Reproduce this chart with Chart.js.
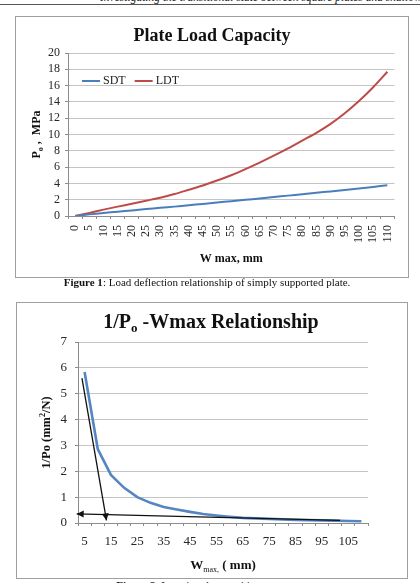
<!DOCTYPE html>
<html>
<head>
<meta charset="utf-8">
<script src="https://cdn.jsdelivr.net/npm/chart.js@4.4.1/dist/chart.umd.min.js"></script>
<style>
html, body { margin:0; padding:0; background:#fff; width:420px; height:583px; overflow:hidden; position:relative; font-family:'Liberation Serif', serif; }
#header { position:absolute; left:100px; top:-8px; white-space:nowrap; font-style:italic; font-size:11.5px; line-height:11.5px; color:#222; }
#rule { position:absolute; left:0; top:4px; width:420px; border-top:1px solid #555; }
.box { position:absolute; border:1px solid #a0a0a0; box-sizing:border-box; }
#box1 { left:15px; top:16px; width:394px; height:262px; }
#box2 { left:16px; top:302px; width:392px; height:277px; }
.box canvas { position:absolute; left:0; top:0; }
.cap { position:absolute; font-size:11px; line-height:11px; color:#111; white-space:nowrap; text-align:center; }
</style>
</head>
<body>
<div id="header">Investigating the transitional state between square plates and shallow shells</div>
<div id="rule"></div>
<div class="box" id="box1"><canvas id="c1" width="392" height="260"></canvas></div>
<div class="cap" style="left:0;width:414px;top:277px;"><b>Figure 1</b>: Load deflection relationship of simply supported plate.</div>
<div class="box" id="box2"><canvas id="c2" width="390" height="275"></canvas></div>
<div class="cap" style="left:0;width:400px;top:580px;"><b>Figure 2</b>: Locating the transition state</div>
<script>
// --- figure 1 data ---
const W_MAX = [0, 5, 10, 15, 20, 25, 30, 35, 40, 45, 50, 55, 60, 65, 70, 75, 80, 85, 90, 95, 100, 105, 110];
const SDT = [0, 0.2, 0.37, 0.53, 0.68, 0.85, 1.0, 1.15, 1.32, 1.48, 1.65, 1.82, 1.98, 2.15, 2.32, 2.5, 2.68, 2.85, 3.02, 3.2, 3.38, 3.57, 3.78];
const LDT = [0, 0.38, 0.78, 1.15, 1.5, 1.88, 2.25, 2.7, 3.22, 3.75, 4.35, 5.0, 5.75, 6.55, 7.4, 8.3, 9.25, 10.2, 11.3, 12.6, 14.1, 15.8, 17.7];

// --- figure 2 data ---
const W2 = [5, 10, 15, 20, 25, 30, 35, 40, 45, 50, 55, 60, 65, 70, 75, 80, 85, 90, 95, 100, 105, 110];
const INV_P = [5.84, 2.86, 1.86, 1.36, 1.0, 0.78, 0.62, 0.52, 0.43, 0.35, 0.29, 0.24, 0.2, 0.18, 0.16, 0.14, 0.12, 0.11, 0.1, 0.09, 0.08, 0.07];
const W2_LABELS = [5, 15, 25, 35, 45, 55, 65, 75, 85, 95, 105];
// hand drawn arrows on the figure (data units)
const ARROW1_X = [4.0, 13.3];
const ARROW1_Y = [5.6, 0.1];
const ARROW2_X = [101.9, 2.0];
const ARROW2_Y = [0.1, 0.35];

const SERIF = "'Liberation Serif', 'Times New Roman', serif";
const GRID = '#c4c4c4';
const AXIS = '#8c8c8c';

// draw text made of pieces (sub/superscripts), centred at x
function drawRich(ctx, parts, x, y, rot) {
    ctx.save();
    ctx.translate(x, y);
    if (rot) ctx.rotate(rot);
    ctx.fillStyle = '#111';
    ctx.textAlign = 'left';
    ctx.textBaseline = 'alphabetic';
    let w = 0;
    parts.forEach(p => { ctx.font = `${p.b ? 'bold ' : ''}${p.s}px ${SERIF}`; w += ctx.measureText(p.t).width; });
    let cx = -w / 2;
    parts.forEach(p => {
        ctx.font = `${p.b ? 'bold ' : ''}${p.s}px ${SERIF}`;
        ctx.fillText(p.t, cx, p.dy || 0);
        cx += ctx.measureText(p.t).width;
    });
    ctx.restore();
}

const arrowHeads = {
    id: 'arrowHeads',
    afterDatasetsDraw(chart) {
        const ctx = chart.ctx;
        chart.data.datasets.forEach((ds, i) => {
            if (!ds.arrow) return;
            const pts = chart.getDatasetMeta(i).data;
            const a = pts[pts.length - 2], b = pts[pts.length - 1];
            const ang = Math.atan2(b.y - a.y, b.x - a.x);
            ctx.save();
            ctx.translate(b.x, b.y);
            ctx.rotate(ang);
            ctx.fillStyle = ds.borderColor;
            ctx.beginPath();
            ctx.moveTo(0, 0);
            ctx.lineTo(-7, -3.5);
            ctx.lineTo(-7, 3.5);
            ctx.closePath();
            ctx.fill();
            ctx.restore();
        });
    }
};

const texts1 = {
    id: 'texts1',
    afterDraw(chart) {
        const ctx = chart.ctx, a = chart.chartArea;
        drawRich(ctx, [{t: 'Plate Load Capacity', s: 18, b: true}], chart.width / 2, 24);
        drawRich(ctx, [{t: 'P', s: 12, b: true}, {t: 'o', s: 8, b: true, dy: 3}, {t: ' ,  MPa', s: 12, b: true}], 24, (a.top + a.bottom) / 2, -Math.PI / 2);
        drawRich(ctx, [{t: 'W max, mm', s: 12, b: true}], (a.left + a.right) / 2, 245);
        // legend inside the plot
        let x = a.left + 14;
        const y = a.top + 28;
        ctx.save();
        ctx.font = `12px ${SERIF}`;
        ctx.textBaseline = 'middle';
        chart.data.datasets.forEach(ds => {
            ctx.strokeStyle = ds.borderColor;
            ctx.lineWidth = 2;
            ctx.beginPath(); ctx.moveTo(x, y); ctx.lineTo(x + 18, y); ctx.stroke();
            ctx.fillStyle = '#222';
            ctx.fillText(ds.label, x + 21, y);
            x += 21 + ctx.measureText(ds.label).width + 9;
        });
        ctx.restore();
    }
};

const texts2 = {
    id: 'texts2',
    afterDraw(chart) {
        const ctx = chart.ctx, a = chart.chartArea;
        drawRich(ctx, [{t: '1/P', s: 20, b: true}, {t: 'o', s: 13, b: true, dy: 4}, {t: ' -Wmax Relationship', s: 20, b: true}], chart.width / 2 - 1, 25);
        drawRich(ctx, [{t: '1/Po (mm', s: 12.5, b: true}, {t: '2', s: 8, b: true, dy: -5}, {t: '/N)', s: 12.5, b: true}], 33, (a.top + a.bottom) / 2, -Math.PI / 2);
        drawRich(ctx, [{t: 'W', s: 13, b: true}, {t: 'max,', s: 8, dy: 3}, {t: ' ( mm)', s: 13, b: true}], (a.left + a.right) / 2, 266);
    }
};

new Chart(document.getElementById('c1'), {
    type: 'line',
    data: {
        labels: W_MAX,
        datasets: [
            { label: 'SDT', data: SDT, borderColor: '#4a7ebb', borderWidth: 2, pointRadius: 0, tension: 0.3 },
            { label: 'LDT', data: LDT, borderColor: '#be4b48', borderWidth: 2, pointRadius: 0, tension: 0.3 }
        ]
    },
    options: {
        responsive: false, animation: false, events: [],
        layout: { padding: { top: 36, right: 11, left: 0, bottom: 0 } },
        plugins: { legend: { display: false }, title: { display: false }, tooltip: { enabled: false } },
        scales: {
            x: {
                type: 'category', offset: true,
                afterFit: s => { s.height = 61; },
                grid: { offset: true, drawOnChartArea: false, color: AXIS, tickLength: 3 },
                border: { color: AXIS },
                ticks: { autoSkip: false, minRotation: 90, maxRotation: 90, padding: 6, color: '#262626', font: { family: SERIF, size: 12 } }
            },
            y: {
                min: 0, max: 20,
                afterFit: s => { s.width = 52; },
                grid: { color: GRID, tickColor: AXIS, tickLength: 3 },
                border: { color: AXIS },
                ticks: { autoSkip: false, stepSize: 2, padding: 5, color: '#262626', font: { family: SERIF, size: 12 } }
            }
        }
    },
    plugins: [texts1]
});

new Chart(document.getElementById('c2'), {
    type: 'line',
    data: {
        datasets: [
            { data: ARROW1_X.map((x, i) => ({x, y: ARROW1_Y[i]})), borderColor: '#111', borderWidth: 1.3, pointRadius: 0, arrow: true, clip: false },
            { data: ARROW2_X.map((x, i) => ({x, y: ARROW2_Y[i]})), borderColor: '#111', borderWidth: 1.3, pointRadius: 0, arrow: true, clip: false },
            { data: W2.map((x, i) => ({x, y: INV_P[i]})), borderColor: '#5585c2', borderWidth: 2.6, pointRadius: 0, tension: 0 }
        ]
    },
    options: {
        responsive: false, animation: false, events: [],
        layout: { padding: { top: 39, right: 39, left: 0, bottom: 0 } },
        plugins: { legend: { display: false }, title: { display: false }, tooltip: { enabled: false } },
        scales: {
            x: {
                type: 'linear', min: 2.5, max: 112.5,
                afterBuildTicks: s => { s.ticks = W2.map(v => ({ value: v })); },
                afterFit: s => { s.height = 55; },
                grid: { offset: true, drawOnChartArea: false, color: AXIS, tickLength: 3 },
                border: { color: AXIS },
                ticks: {
                    autoSkip: false, maxRotation: 0, padding: 8, color: '#262626', font: { family: SERIF, size: 13 },
                    callback: v => W2_LABELS.includes(v) ? String(v) : ''
                }
            },
            y: {
                min: 0, max: 7,
                afterFit: s => { s.width = 61; },
                grid: { color: GRID, tickColor: AXIS, tickLength: 3 },
                border: { color: AXIS },
                ticks: { autoSkip: false, stepSize: 1, padding: 8, color: '#262626', font: { family: SERIF, size: 13 } }
            }
        }
    },
    plugins: [arrowHeads, texts2]
});
</script>
</body>
</html>
